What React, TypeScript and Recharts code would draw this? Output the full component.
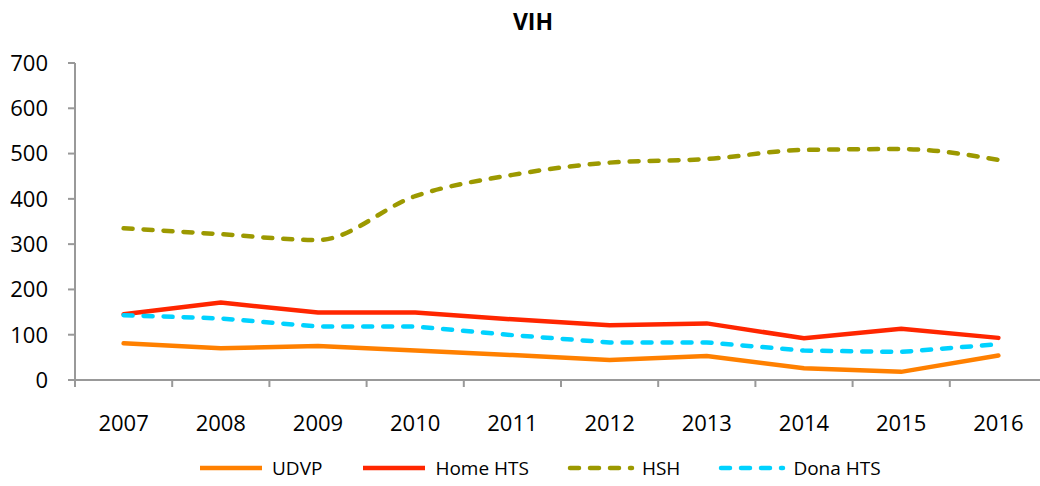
import React from 'react';
import { LineChart, Line, XAxis, YAxis, Legend } from 'recharts';

const years = ['2007', '2008', '2009', '2010', '2011', '2012', '2013', '2014', '2015', '2016'];
const udvp = [81, 70, 75, 65, 55, 44, 53, 26, 18, 54];
const homeHts = [145, 171, 149, 149, 134, 121, 125, 92, 113, 93];
const hsh = [335, 322, 309, 406, 453, 480, 488, 508, 510, 486];
const donaHts = [143, 136, 118, 118, 99, 83, 83, 65, 62, 79];
const yTicks = [0, 100, 200, 300, 400, 500, 600, 700];

const data = years.map((year, i) => ({
  year,
  udvp: udvp[i],
  homeHts: homeHts[i],
  hsh: hsh[i],
  donaHts: donaHts[i],
}));

const FONT = '"Open Sans", sans-serif';
const W = 1060;
const H = 486;
const MARGIN = { top: 63, right: 13, left: 0, bottom: 0 };
const Y_W = 75;
const BAND = (W - MARGIN.left - MARGIN.right - Y_W) / years.length;
const DASH = '9 11';

const series = [
  { key: 'udvp', name: 'UDVP', color: '#FF8000', dash: undefined, type: 'linear' as const },
  { key: 'homeHts', name: 'Home HTS', color: '#FF2600', dash: undefined, type: 'linear' as const },
  { key: 'hsh', name: 'HSH', color: '#9C9900', dash: DASH, type: 'monotone' as const },
  { key: 'donaHts', name: 'Dona HTS', color: '#00D2FF', dash: DASH, type: 'linear' as const },
];

// category boundary ticks like the original (ticks between years, labels centred)
function XTick(props: any) {
  const { x, y, payload } = props;
  const bx = x - BAND / 2;
  return (
    <g>
      <line x1={bx} x2={bx} y1={y - 7} y2={y} stroke="#999" strokeWidth={2} />
      <text x={x} y={y + 44} textAnchor="middle" fontSize={22} fontFamily={FONT} fill="#000">
        {payload.value}
      </text>
    </g>
  );
}

function LegendContent() {
  return (
    <div style={{ display: 'flex', alignItems: 'center', height: 36, fontFamily: FONT, fontSize: 19, color: '#000' }}>
      {series.map((s, i) => (
        <div key={s.key} style={{ display: 'flex', alignItems: 'center', marginLeft: i === 0 ? 0 : 38 }}>
          <svg width={68} height={10} style={{ marginRight: 7 }}>
            <line
              x1={3}
              x2={65}
              y1={5}
              y2={5}
              stroke={s.color}
              strokeWidth={4.5}
              strokeDasharray={s.dash}
              strokeLinecap={s.dash ? 'round' : 'butt'}
            />
          </svg>
          <span>{s.name}</span>
        </div>
      ))}
    </div>
  );
}

export default function App() {
  return (
    <div style={{ position: 'absolute', left: 0, top: 0, width: 1040, height: H, overflow: 'hidden', background: '#fff' }}>
      <div
        style={{
          position: 'absolute',
          left: 433,
          width: 200,
          top: 5,
          textAlign: 'center',
          fontFamily: FONT,
          fontWeight: 700,
          fontSize: 23,
          color: '#000',
        }}
      >
        VIH
      </div>
      <LineChart width={W} height={H} data={data} margin={MARGIN}>
        <XAxis
          dataKey="year"
          height={70}
          padding={{ left: BAND / 2, right: BAND / 2 }}
          tickSize={7}
          tickMargin={0}
          tickLine={false}
          axisLine={{ stroke: '#999', strokeWidth: 2 }}
          tick={<XTick />}
          interval={0}
        />
        <YAxis
          width={Y_W}
          domain={[0, 700]}
          ticks={yTicks}
          tickSize={7}
          tickMargin={20}
          axisLine={{ stroke: '#999', strokeWidth: 2 }}
          tickLine={{ stroke: '#999', strokeWidth: 2 }}
          tick={{ fontSize: 22, fontFamily: FONT, fill: '#000' }}
        />
        <Legend
          verticalAlign="bottom"
          height={36}
          content={<LegendContent />}
          wrapperStyle={{ left: 197, width: 780 }}
        />
        {series.map((s) => (
          <Line
            key={s.key}
            type={s.type}
            dataKey={s.key}
            name={s.name}
            stroke={s.color}
            strokeWidth={4.5}
            strokeDasharray={s.dash}
            strokeLinecap="round"
            dot={false}
            activeDot={false}
            isAnimationActive={false}
          />
        ))}
      </LineChart>
    </div>
  );
}
